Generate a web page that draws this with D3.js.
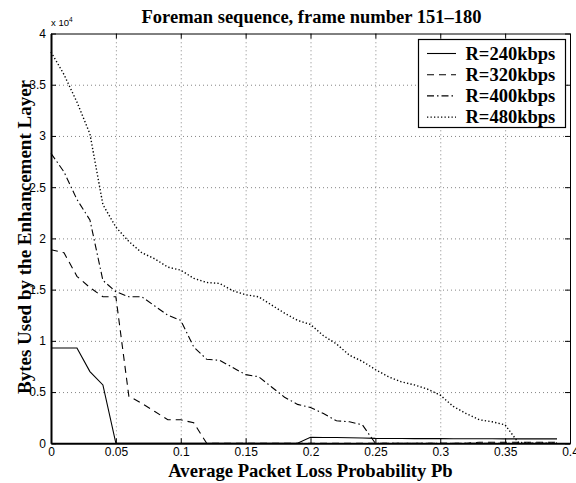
<!DOCTYPE html>
<html>
<head>
<meta charset="utf-8">
<script src="https://cdn.jsdelivr.net/npm/d3@7"></script>
<style>
  body { margin: 0; background: #fff; }
  .tick text { font-family: "Liberation Sans", Arial, sans-serif; font-size: 12px; }
</style>
</head>
<body>
<div id="container"></div>
<script>
/* CONSTANTS AND GLOBALS */
const width = 576,
  height = 483,
  margin = { top: 33.5, right: 6, bottom: 40, left: 51 };

// packet loss probability (x)
const pb = [0, 0.01, 0.02, 0.03, 0.04, 0.05, 0.06, 0.07, 0.08, 0.09,
  0.10, 0.11, 0.12, 0.13, 0.14, 0.15, 0.16, 0.17, 0.18, 0.19,
  0.20, 0.21, 0.22, 0.23, 0.24, 0.25, 0.26, 0.27, 0.28, 0.29,
  0.30, 0.31, 0.32, 0.33, 0.34, 0.35, 0.36, 0.37, 0.38, 0.39];

// bytes used by the enhancement layer, x 10^4
const r240 = [0.93, 0.93, 0.93, 0.70, 0.57, 0, 0, 0, 0, 0,
  0, 0, 0, 0, 0, 0, 0, 0, 0, 0,
  0.058, 0.057, 0.056, 0.054, 0.052, 0.048, 0.047, 0.047, 0.046, 0.046,
  0.046, 0.045, 0.044, 0.044, 0.044, 0.043, 0.043, 0.043, 0.043, 0.043];
const r320 = [1.89, 1.86, 1.63, 1.52, 1.43, 1.43, 0.46, 0.39, 0.31, 0.23,
  0.23, 0.20, 0, 0, 0, 0, 0, 0, 0, 0,
  0, 0, 0, 0, 0, 0, 0, 0, 0, 0,
  0, 0, 0, 0.01, 0.01, 0.01, 0.01, 0.01, 0.01, 0.01];
const r400 = [2.83, 2.65, 2.38, 2.18, 1.59, 1.48, 1.43, 1.43, 1.34, 1.25,
  1.20, 0.94, 0.82, 0.81, 0.74, 0.67, 0.65, 0.55, 0.45, 0.38,
  0.35, 0.29, 0.22, 0.21, 0.18, 0, 0, 0, 0, 0,
  0, 0, 0, 0, 0, 0, 0, 0, 0, 0];
const r480 = [3.82, 3.60, 3.33, 3.02, 2.33, 2.11, 1.97, 1.86, 1.80, 1.72,
  1.69, 1.61, 1.57, 1.56, 1.49, 1.45, 1.43, 1.35, 1.27, 1.20,
  1.16, 1.05, 0.97, 0.86, 0.80, 0.72, 0.65, 0.60, 0.57, 0.53,
  0.47, 0.36, 0.29, 0.23, 0.21, 0.18, 0.01, 0, 0, 0];

const seriesNames = ["R=240kbps", "R=320kbps", "R=400kbps", "R=480kbps"];
const seriesValues = [r240, r320, r400, r480];
const dashes = ["none", "7,5", "7,3,1.5,3", "1.3,2.2"];

const xTicks = [0, 0.05, 0.1, 0.15, 0.2, 0.25, 0.3, 0.35, 0.4];
const yTicks = [0, 0.5, 1, 1.5, 2, 2.5, 3, 3.5, 4];

const titleText = "Foreman sequence, frame number 151\u2013180";
const xLabel = "Average Packet Loss Probability Pb";
const yLabel = "Bytes Used by the Enhancement Layer";

let svg, xScale, yScale;

init();

function init() {
  svg = d3.select("#container")
    .append("svg")
    .attr("width", width)
    .attr("height", height);

  xScale = d3.scaleLinear()
    .domain([0, 0.4])
    .range([margin.left, 570]);

  yScale = d3.scaleLinear()
    .domain([0, 4])
    .range([443.3, margin.top]);

  draw();
}

function draw() {
  const x0 = xScale.range()[0], x1 = xScale.range()[1];
  const y0 = yScale.range()[0], y1 = yScale.range()[1];
  const fmt = d => d3.format("")(+d.toFixed(2));

  // grid
  svg.append("g")
    .attr("transform", `translate(0, ${y0})`)
    .call(d3.axisBottom(xScale).tickValues(xTicks.slice(1, -1)).tickSize(-(y0 - y1)).tickFormat(""))
    .call(g => g.select(".domain").remove())
    .selectAll("line")
    .attr("stroke", "#777")
    .attr("stroke-width", 0.9)
    .attr("stroke-dasharray", "1,3");

  svg.append("g")
    .attr("transform", `translate(${x0}, 0)`)
    .call(d3.axisLeft(yScale).tickValues(yTicks.slice(1, -1)).tickSize(-(x1 - x0)).tickFormat(""))
    .call(g => g.select(".domain").remove())
    .selectAll("line")
    .attr("stroke", "#777")
    .attr("stroke-width", 0.9)
    .attr("stroke-dasharray", "1,3");

  // lines
  const line = d3.line()
    .x((d, i) => xScale(pb[i]))
    .y(d => yScale(d));

  svg.selectAll(".series")
    .data(seriesValues)
    .join("path")
    .attr("class", "series")
    .attr("d", d => line(d))
    .attr("fill", "none")
    .attr("stroke", "#000")
    .attr("stroke-width", (d, i) => i === 3 ? 1.4 : 1.1)
    .attr("stroke-dasharray", (d, i) => dashes[i]);

  // axes: ticks inward on all four sides
  const bottom = svg.append("g")
    .attr("transform", `translate(0, ${y0})`)
    .call(d3.axisBottom(xScale).tickValues(xTicks).tickSizeInner(-5).tickSizeOuter(0).tickPadding(4).tickFormat(fmt));
  bottom.select(".domain").attr("stroke-width", 2);

  const left = svg.append("g")
    .attr("transform", `translate(${x0}, 0)`)
    .call(d3.axisLeft(yScale).tickValues(yTicks).tickSizeInner(-5).tickSizeOuter(0).tickPadding(5).tickFormat(fmt));
  left.select(".domain").attr("stroke-width", 2);

  svg.append("g")
    .attr("transform", `translate(0, ${y1})`)
    .call(d3.axisTop(xScale).tickValues(xTicks).tickSizeInner(-5).tickSizeOuter(0).tickFormat(""));

  svg.append("g")
    .attr("transform", `translate(${x1}, 0)`)
    .call(d3.axisRight(yScale).tickValues(yTicks).tickSizeInner(-5).tickSizeOuter(0).tickFormat(""));

  svg.selectAll(".tick text").attr("fill", "#000");
  svg.selectAll(".tick line").filter(function () { return !this.getAttribute("stroke-dasharray"); }).attr("stroke", "#000");

  // exponent label
  const expo = svg.append("text")
    .attr("x", x0)
    .attr("y", 26)
    .style("font-family", "Liberation Sans, Arial, sans-serif")
    .style("font-size", "9.5px")
    .text("x 10");
  expo.append("tspan")
    .attr("dy", -4)
    .style("font-size", "6.5px")
    .text("4");

  // title and labels
  const serif = "Liberation Serif, Times New Roman, serif";
  svg.append("text")
    .attr("x", 311.5)
    .attr("y", 23)
    .attr("text-anchor", "middle")
    .style("font-family", serif)
    .style("font-weight", "bold")
    .style("font-size", "18.5px")
    .text(titleText);

  svg.append("text")
    .attr("x", 310.5)
    .attr("y", 476.5)
    .attr("text-anchor", "middle")
    .style("font-family", serif)
    .style("font-weight", "bold")
    .style("font-size", "18.6px")
    .text(xLabel);

  svg.append("text")
    .attr("transform", `translate(31, 237) rotate(-90)`)
    .attr("text-anchor", "middle")
    .style("font-family", serif)
    .style("font-weight", "bold")
    .style("font-size", "19px")
    .text(yLabel);

  // legend
  const legend = svg.append("g");
  legend.append("rect")
    .attr("x", 418.5)
    .attr("y", 39.5)
    .attr("width", 147)
    .attr("height", 88)
    .attr("fill", "#fff")
    .attr("stroke", "#000")
    .attr("stroke-width", 1.2);

  const items = legend.selectAll(".item")
    .data(seriesNames)
    .join("g")
    .attr("class", "item")
    .attr("transform", (d, i) => `translate(0, ${53.5 + i * 21.2})`);

  items.append("line")
    .attr("x1", 427)
    .attr("x2", 456)
    .attr("stroke", "#000")
    .attr("stroke-width", (d, i) => i === 3 ? 1.4 : 1.1)
    .attr("stroke-dasharray", (d, i) => dashes[i]);

  items.append("text")
    .attr("x", 465.5)
    .attr("y", 6)
    .style("font-family", serif)
    .style("font-weight", "bold")
    .style("font-size", "18.5px")
    .text(d => d);
}
</script>
</body>
</html>
